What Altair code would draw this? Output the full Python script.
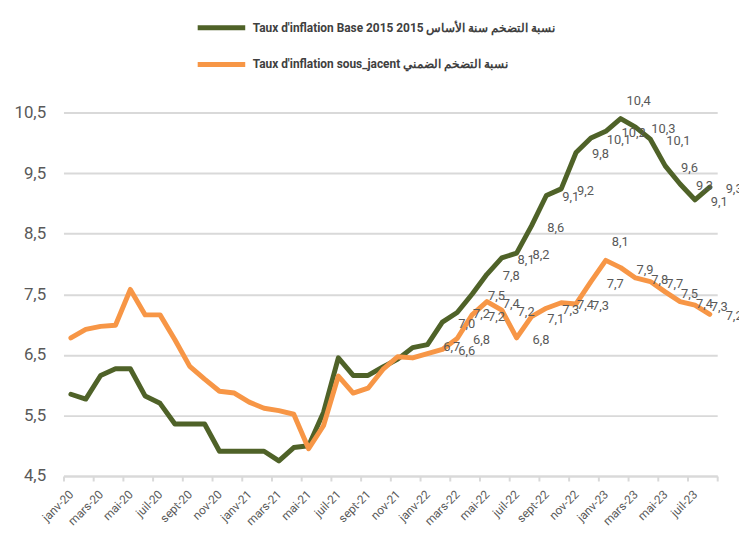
import altair as alt
import pandas as pd

months = [
    "janv-20", "févr-20", "mars-20", "avr-20", "mai-20", "juin-20", "juil-20", "août-20",
    "sept-20", "oct-20", "nov-20", "déc-20",
    "janv-21", "févr-21", "mars-21", "avr-21", "mai-21", "juin-21", "juil-21", "août-21",
    "sept-21", "oct-21", "nov-21", "déc-21",
    "janv-22", "févr-22", "mars-22", "avr-22", "mai-22", "juin-22", "juil-22", "août-22",
    "sept-22", "oct-22", "nov-22", "déc-22",
    "janv-23", "févr-23", "mars-23", "avr-23", "mai-23", "juin-23", "juil-23", "août-23",
]
tick_labels = months[::2]

base2015 = [
    5.85, 5.77, 6.16, 6.27, 6.27, 5.82, 5.70, 5.36, 5.36, 5.36, 4.91, 4.91,
    4.91, 4.91, 4.75, 4.97, 5.00, 5.55, 6.45, 6.16, 6.16, 6.30, 6.43, 6.62,
    6.67, 7.04, 7.20, 7.50, 7.83, 8.10, 8.18, 8.63, 9.13, 9.24, 9.84, 10.08,
    10.19, 10.40, 10.26, 10.06, 9.62, 9.32, 9.06, 9.27,
]
underlying = [
    6.78, 6.92, 6.97, 6.99, 7.58, 7.16, 7.16, 6.75, 6.31, 6.10, 5.90, 5.87,
    5.72, 5.62, 5.58, 5.52, 4.95, 5.33, 6.15, 5.87, 5.95, 6.26, 6.47, 6.45,
    6.52, 6.59, 6.77, 7.16, 7.38, 7.24, 6.78, 7.13, 7.27, 7.36, 7.34, 7.71,
    8.06, 7.94, 7.77, 7.71, 7.54, 7.38, 7.32, 7.17,
]
series_names = [
    "Taux d'inflation Base 2015 نسبة التضخم سنة الأساس 2015",
    "Taux d'inflation sous_jacent نسبة التضخم الضمني",
]
series_colors = ["#4F6228", "#F79646"]
label_start = [24, 25]
y_ticks = [4.5, 5.5, 6.5, 7.5, 8.5, 9.5, 10.5]

rows = []
for name, vals, start in zip(series_names, [base2015, underlying], label_start):
    for k, v in enumerate(vals):
        rows.append({"k": k, "month": months[k], "series": name, "value": v, "show": k >= start})
df = pd.DataFrame(rows)

n = len(months)
tick_vals = [-0.5 + 2 * j for j in range(n // 2 + 1)]
js_labels = "[" + ",".join("'" + t + "'" for t in tick_labels) + "]"
x_label_expr = f"datum.value > {n - 1} ? '' : {js_labels}[floor((datum.value + 0.5) / 2)]"

font = "Roboto"
x = alt.X(
    "k:Q",
    scale=alt.Scale(domain=[-0.5, n - 0.5], nice=False, zero=False),
    axis=alt.Axis(
        values=tick_vals,
        labelExpr=x_label_expr,
        labelOffset=7.5,
        labelAngle=315,
        labelAlign="right",
        labelBaseline="middle",
        labelFontSize=12,
        labelFont=font,
        labelColor="#595959",
        labelPadding=11,
        labelOverlap=False,
        labelFlush=False,
        labelBound=False,
        grid=False,
        domainColor="#d9d9d9",
        domainWidth=2,
        tickColor="#d9d9d9",
        tickWidth=2,
        tickSize=5,
        title=None,
    ),
)
y = alt.Y(
    "value:Q",
    scale=alt.Scale(domain=[4.5, 10.5], nice=False, zero=False),
    axis=alt.Axis(
        values=y_ticks,
        labelExpr="replace(format(datum.value, '.1f'), '.', ',')",
        labelFontSize=17,
        labelFont=font,
        labelColor="#595959",
        labelPadding=18,
        labelOverlap=False,
        domain=False,
        ticks=False,
        grid=True,
        gridColor="#d9d9d9",
        gridWidth=2,
        title=None,
    ),
)
color = alt.Color(
    "series:N",
    scale=alt.Scale(domain=series_names, range=series_colors),
    sort=series_names,
    legend=alt.Legend(
        title=None,
        orient="none",
        legendX=133,
        legendY=-112,
        direction="vertical",
        symbolType="stroke",
        symbolSize=2304,
        symbolStrokeWidth=5,
        rowPadding=-10,
        labelFont=font,
        labelFontSize=12,
        labelFontWeight="bold",
        labelColor="#404040",
        labelLimit=600,
        labelOffset=5,
    ),
)

lines = alt.Chart(df).mark_line(strokeWidth=5, strokeJoin="round", strokeCap="round").encode(
    x=x, y=y, color=color, order="k:Q"
)

labelled = (
    alt.Chart(df)
    .transform_joinaggregate(peak="max(value)", groupby=["series"])
    .transform_filter("datum.show")
    .transform_calculate(lbl="replace(format(datum.value, '.1f'), '.', ',')")
)
texts = labelled.transform_filter("datum.value < datum.peak").mark_text(
    align="left", baseline="middle", dx=16, dy=2, fontSize=13, font=font, color="#595959"
).encode(x=x, y=y, text="lbl:N")
peak_texts = labelled.transform_filter("datum.value >= datum.peak").mark_text(
    align="left", baseline="bottom", dx=6, dy=-11, fontSize=13, font=font, color="#595959"
).encode(x=x, y=y, text="lbl:N")

chart = (
    alt.layer(lines, texts, peak_texts)
    .properties(
        width=660,
        height=367,
        autosize=alt.AutoSizeParams(type="none"),
        padding={"left": 56, "top": 103, "right": 22, "bottom": 58},
    )
    .configure_view(stroke=None)
    .configure_axis(labelOverlap=False)
)
chart.save("out.html", embed_options={"renderer": "svg", "actions": False})
